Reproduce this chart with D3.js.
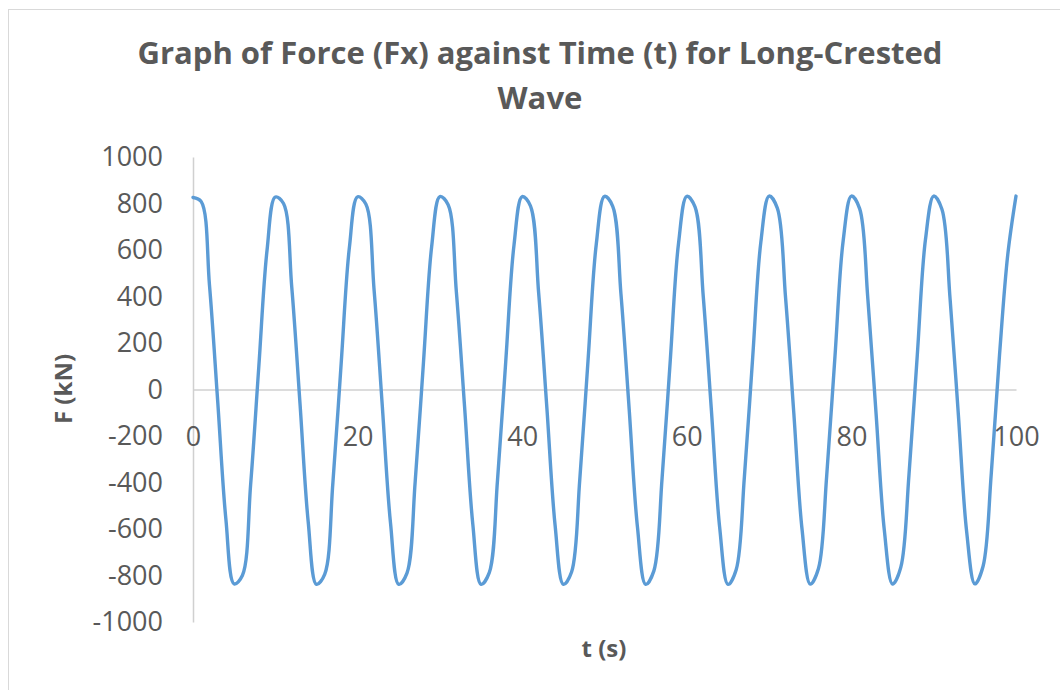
<!DOCTYPE html>
<html>
<head>
<meta charset="utf-8">
<script src="https://cdn.jsdelivr.net/npm/d3@7/dist/d3.min.js"></script>
<style>
html,body{margin:0;padding:0;background:#fff;}
svg{display:block;}
</style>
</head>
<body>
<svg id="chart" width="1060" height="690"></svg>
<script>
// ---- Data ----
const titleLines = ["Graph of Force (Fx) against Time (t) for Long-Crested", "Wave"];
const xTitle = "t (s)";
const yTitle = "F (kN)";
const xTicks = [0, 20, 40, 60, 80, 100];
const yTicks = [-1000, -800, -600, -400, -200, 0, 200, 400, 600, 800, 1000];
const timeS = [
  0,1,2,3,4,5,6,7,8,9,
  10,11,12,13,14,15,16,17,18,19,
  20,21,22,23,24,25,26,27,28,29,
  30,31,32,33,34,35,36,37,38,39,
  40,41,42,43,44,45,46,47,48,49,
  50,51,52,53,54,55,56,57,58,59,
  60,61,62,63,64,65,66,67,68,69,
  70,71,72,73,74,75,76,77,78,79,
  80,81,82,83,84,85,86,87,88,89,
  90,91,92,93,94,95,96,97,98,99,
  100
];
const forceKN = [
  826, 808, 450, -50, -560, -836, -800, -410, 100, 600,
  828, 800, 440, -60, -570, -838, -795, -400, 110, 610,
  829, 798, 430, -70, -575, -838, -790, -395, 115, 615,
  830, 795, 420, -75, -580, -838, -788, -390, 120, 620,
  830, 790, 415, -80, -585, -838, -785, -385, 125, 625,
  831, 788, 410, -85, -590, -838, -780, -380, 130, 630,
  831, 785, 400, -95, -595, -838, -775, -375, 135, 635,
  832, 780, 395, -100, -600, -837, -770, -370, 140, 640,
  832, 778, 390, -105, -605, -837, -765, -365, 145, 645,
  832, 775, 385, -110, -610, -836, -760, -360, 150, 580,
  832
];

// ---- Drawing ----
const svg = d3.select("#chart");
const textColor = "#595959";
const axisColor = "#d0d0d0";
const lineColor = "#5b9bd5";
const tickFont = "'Open Sans', 'Liberation Sans', sans-serif";
const plainFmt = d => String(d);   // hyphen-minus like the reference

// outer chart border
svg.append("rect")
  .attr("x", 8.5).attr("y", 9.5)
  .attr("width", 1070).attr("height", 700)
  .attr("fill", "none").attr("stroke", "#d9d9d9").attr("stroke-width", 1);

const x = d3.scaleLinear().domain([0, 100]).range([193, 1016]);
const y = d3.scaleLinear().domain([-1000, 1000]).range([622, 157]);

// title
const title = svg.append("g");
title.append("text")
  .attr("x", 540).attr("y", 64)
  .attr("text-anchor", "middle")
  .attr("font-family", tickFont).attr("font-weight", 700)
  .attr("font-size", 30).attr("fill", textColor)
  .attr("textLength", 805).attr("lengthAdjust", "spacingAndGlyphs")
  .text(titleLines[0]);
title.append("text")
  .attr("x", 540).attr("y", 109)
  .attr("text-anchor", "middle")
  .attr("font-family", tickFont).attr("font-weight", 700)
  .attr("font-size", 30).attr("fill", textColor)
  .attr("textLength", 85).attr("lengthAdjust", "spacingAndGlyphs")
  .text(titleLines[1]);

// Y axis (line + labels, no tick marks)
const yAxis = d3.axisLeft(y).tickValues(yTicks).tickSize(0).tickPadding(30)
  .tickFormat(plainFmt);
const gy = svg.append("g").attr("transform", `translate(${x(0)},0)`).call(yAxis);
gy.select(".domain").attr("stroke", axisColor).attr("stroke-width", 1.5);
gy.selectAll("text")
  .attr("font-family", tickFont).attr("font-size", 27)
  .attr("fill", textColor);

// X axis crossing at y=0
const xAxis = d3.axisBottom(x).tickValues(xTicks).tickSize(0).tickPadding(30)
  .tickFormat(plainFmt);
const gx = svg.append("g").attr("transform", `translate(0,${y(0)})`).call(xAxis);
gx.select(".domain").attr("stroke", axisColor).attr("stroke-width", 1.5);
gx.selectAll("text")
  .attr("font-family", tickFont).attr("font-size", 27)
  .attr("fill", textColor)
  .attr("dy", "0.35em").attr("y", 47);

// line series
const pts = timeS.map((t, i) => [t, forceKN[i]]);
const line = d3.line()
  .x(d => x(d[0])).y(d => y(d[1]))
  .curve(d3.curveCatmullRom.alpha(0.5));
svg.append("path")
  .datum(pts)
  .attr("d", line)
  .attr("fill", "none")
  .attr("stroke", lineColor)
  .attr("stroke-width", 3.4)
  .attr("stroke-linejoin", "round")
  .attr("stroke-linecap", "round");

// axis titles
svg.append("text")
  .attr("transform", `translate(${64},${389}) rotate(-90)`)
  .attr("text-anchor", "middle")
  .attr("dy", "0.35em")
  .attr("font-family", tickFont).attr("font-weight", 700)
  .attr("font-size", 24).attr("fill", textColor)
  .text(yTitle);
svg.append("text")
  .attr("x", 604).attr("y", 657)
  .attr("text-anchor", "middle")
  .attr("font-family", tickFont).attr("font-weight", 700)
  .attr("font-size", 24).attr("fill", textColor)
  .text(xTitle);
</script>
</body>
</html>
